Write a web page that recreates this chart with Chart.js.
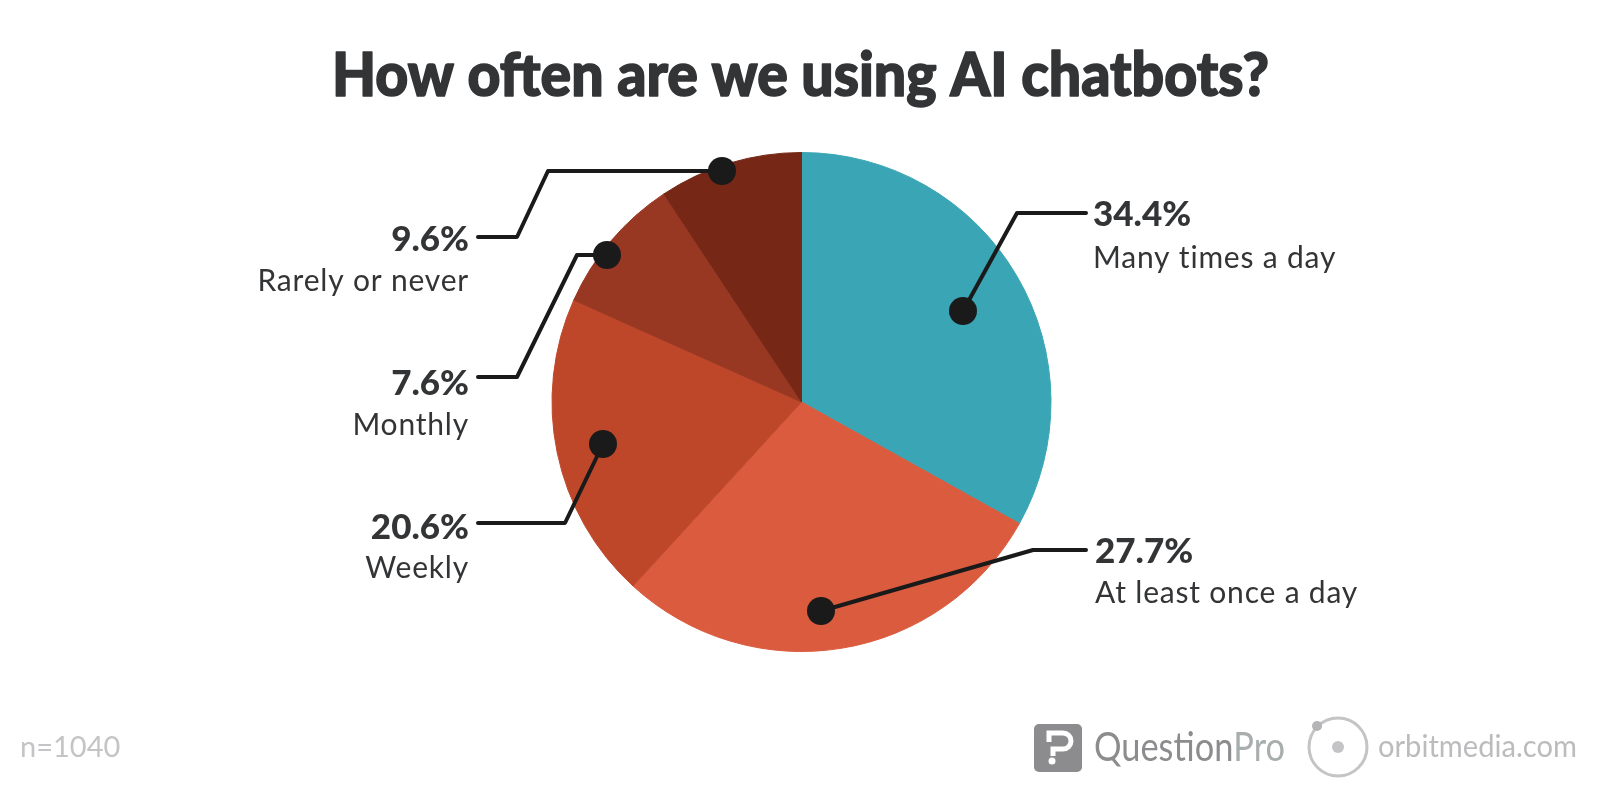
<!DOCTYPE html>
<html>
<head>
<meta charset="utf-8">
<title>How often are we using AI chatbots?</title>
<script src="https://cdn.jsdelivr.net/npm/chart.js@4/dist/chart.umd.min.js"></script>
<style>
  html, body { margin: 0; padding: 0; background: #fff; }
  canvas { display: block; }
</style>
</head>
<body>
<canvas id="pie" width="1600" height="800"></canvas>
<script>
// ── Data ──────────────────────────────────────
const categories = ['Many times a day', 'At least once a day', 'Weekly', 'Monthly', 'Rarely or never'];
// printed on the chart
const percentLabels = ['34.4%', '27.7%', '20.6%', '7.6%', '9.6%'];
// slice sizes as drawn in the picture, they differ a bit from the printed numbers
const drawnShares = [33.1, 28.7, 19.9, 9.0, 9.3];
const sliceColors = ['#3aa5b4', '#da5b3e', '#be472a', '#983722', '#772716'];
const sampleNote = 'n=1040';

// ── Callouts: text anchor + leader path, last point gets the dot ──
const callouts = [
  { align: 'left',  x: 1093, y1: 226, y2: 268, path: [[1086, 213], [1017, 213], [963, 311]] },
  { align: 'left',  x: 1095, y1: 563, y2: 603, path: [[1086, 550], [1033, 550], [821, 611]] },
  { align: 'right', x: 469,  y1: 539, y2: 578, path: [[478, 523], [565, 523], [603, 444]] },
  { align: 'right', x: 469,  y1: 395, y2: 435, path: [[478, 377], [517, 377], [577, 255], [607, 255]] },
  { align: 'right', x: 469,  y1: 251, y2: 291, path: [[478, 237], [517, 237], [548, 171], [722, 171]] }
];

// squeeze a text to a given width, the installed fonts have no condensed cut
function fitText(ctx, text, x, y, width, weight) {
  const scale = width / ctx.measureText(text).width;
  ctx.save();
  ctx.translate(x, y);
  ctx.scale(scale, 1);
  ctx.textAlign = 'left';
  ctx.fillText(text, 0, 0);
  if (weight) {
    ctx.strokeStyle = ctx.fillStyle;
    ctx.lineWidth = weight;
    ctx.lineJoin = 'round';
    ctx.strokeText(text, 0, 0);
  }
  ctx.restore();
}

// ── Title, callouts and footer ────────────────
const decorations = {
  id: 'decorations',
  afterDraw(chart) {
    const ctx = chart.ctx;
    ctx.save();

    ctx.fillStyle = '#333436';
    ctx.font = '900 61px Lato, sans-serif';
    fitText(ctx, 'How often are we using AI chatbots?', 332, 96, 937, 1.6);

    callouts.forEach((c, i) => {
      ctx.beginPath();
      c.path.forEach((p, j) => j ? ctx.lineTo(p[0], p[1]) : ctx.moveTo(p[0], p[1]));
      ctx.strokeStyle = '#1a1a1a';
      ctx.lineWidth = 4;
      ctx.lineJoin = 'round';
      ctx.lineCap = 'round';
      ctx.stroke();
      const end = c.path[c.path.length - 1];
      ctx.beginPath();
      ctx.arc(end[0], end[1], 14, 0, Math.PI * 2);
      ctx.fillStyle = '#1a1a1a';
      ctx.fill();

      ctx.textAlign = c.align;
      ctx.fillStyle = '#333436';
      ctx.font = '900 35px Lato, sans-serif';
      ctx.fillText(percentLabels[i], c.x, c.y1);
      ctx.font = '30px Lato, sans-serif';
      ctx.letterSpacing = '0.8px';
      ctx.fillText(categories[i], c.x, c.y2);
      ctx.letterSpacing = '0px';
    });

    // footer
    ctx.textAlign = 'left';
    ctx.fillStyle = '#c4c4c6';
    ctx.font = '29px Lato, sans-serif';
    ctx.fillText(sampleNote, 20, 757);

    // QuestionPro mark
    ctx.fillStyle = '#8c8c8e';
    ctx.beginPath();
    ctx.roundRect(1034, 724, 48, 48, 5);
    ctx.fill();
    ctx.strokeStyle = '#fff';
    ctx.lineWidth = 5;
    ctx.lineCap = 'butt';
    ctx.lineJoin = 'miter';
    ctx.beginPath();
    ctx.moveTo(1049, 742);
    ctx.lineTo(1049, 733);
    ctx.lineTo(1063, 733);
    ctx.arc(1063, 741, 8, -Math.PI / 2, Math.PI / 2);
    ctx.lineTo(1053, 749);
    ctx.lineTo(1053, 756);
    ctx.stroke();
    ctx.fillStyle = '#fff';
    ctx.beginPath();
    ctx.arc(1052, 761, 3.5, 0, Math.PI * 2);
    ctx.fill();

    ctx.fillStyle = '#8c8c8e';
    ctx.font = '40px Lato, sans-serif';
    const qWidth = ctx.measureText('Question').width;
    const pWidth = ctx.measureText('Pro').width;
    const squeeze = 191 / (qWidth + pWidth);
    fitText(ctx, 'Question', 1094, 761, qWidth * squeeze);
    ctx.fillStyle = '#a8adae';
    fitText(ctx, 'Pro', 1094 + qWidth * squeeze, 761, pWidth * squeeze);

    // orbitmedia mark
    ctx.strokeStyle = '#c4c4c6';
    ctx.lineWidth = 3;
    ctx.beginPath();
    ctx.arc(1338, 747, 29, 0, Math.PI * 2);
    ctx.stroke();
    ctx.fillStyle = '#c4c4c6';
    ctx.beginPath();
    ctx.arc(1338, 747, 6, 0, Math.PI * 2);
    ctx.fill();
    ctx.fillStyle = '#b4b4b6';
    ctx.beginPath();
    ctx.arc(1317, 726, 5, 0, Math.PI * 2);
    ctx.fill();
    ctx.fillStyle = '#bcbcbe';
    ctx.font = '30px Lato, sans-serif';
    fitText(ctx, 'orbitmedia.com', 1378, 757, 199);

    ctx.restore();
  }
};

// ── Pie ───────────────────────────────────────
new Chart(document.getElementById('pie'), {
  type: 'pie',
  data: {
    labels: categories,
    datasets: [{
      data: drawnShares,
      backgroundColor: sliceColors,
      borderColor: sliceColors,
      borderWidth: 1
    }]
  },
  options: {
    responsive: false,
    animation: false,
    layout: { padding: { top: 152, bottom: 148, left: 551.5, right: 548.5 } },
    plugins: { legend: { display: false }, tooltip: { enabled: false } }
  },
  plugins: [decorations]
});
</script>
</body>
</html>
